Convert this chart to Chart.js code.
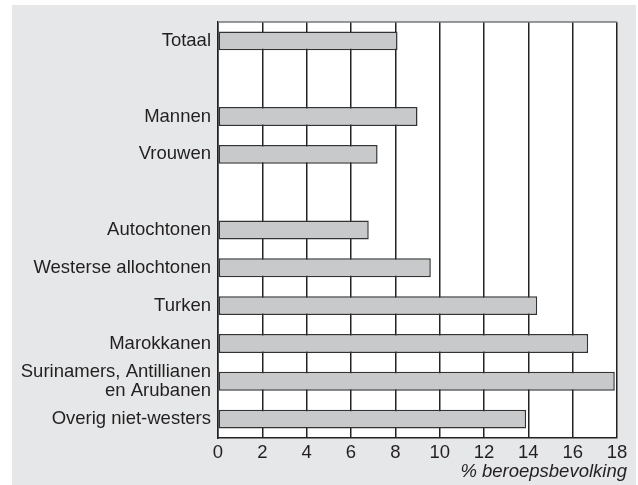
<!DOCTYPE html>
<html>
<head>
<meta charset="utf-8">
<script src="https://cdn.jsdelivr.net/npm/chart.js@4"></script>
<style>
  body { margin: 0; background: #ffffff; }
  #wrap { position: absolute; left: 12px; top: 5px; width: 624px; height: 480px; background: #e6e7e8; }
</style>
</head>
<body>
<div id="wrap"><canvas id="chart" width="624" height="480"></canvas></div>
<script>
// Data
var categories = ['Totaal', '', 'Mannen', 'Vrouwen', '', 'Autochtonen', 'Westerse allochtonen', 'Turken', 'Marokkanen', ['Surinamers, Antillianen', 'en Arubanen'], 'Overig niet-westers'];
var values = [8.1, null, 9.0, 7.2, null, 6.8, 9.6, 14.4, 16.7, 17.9, 13.9];
var xTicks = [0, 2, 4, 6, 8, 10, 12, 14, 16, 18];
var axisTitle = '% beroepsbevolking';

// white plot area, top border and the axis title (sits a bit past the plot's right edge)
var plotBg = {
  id: 'plotBg',
  beforeDraw: function (chart) {
    var a = chart.chartArea;
    var ctx = chart.ctx;
    ctx.save();
    ctx.fillStyle = '#ffffff';
    ctx.fillRect(a.left, a.top, a.right - a.left, a.bottom - a.top);
    ctx.restore();
  },
  afterDraw: function (chart) {
    var a = chart.chartArea;
    var ctx = chart.ctx;
    ctx.save();
    ctx.strokeStyle = '#777777';
    ctx.lineWidth = 1.5;
    ctx.beginPath();
    ctx.moveTo(a.left, a.top);
    ctx.lineTo(a.right, a.top);
    ctx.stroke();
    ctx.fillStyle = '#231f20';
    ctx.font = 'italic 18.5px "Liberation Sans"';
    ctx.textAlign = 'right';
    ctx.textBaseline = 'alphabetic';
    ctx.fillText(axisTitle, a.right + 10, a.bottom + 39);
    ctx.restore();
  }
};

var ctx = document.getElementById('chart').getContext('2d');
var chart = new Chart(ctx, {
  type: 'bar',
  data: {
    labels: categories,
    datasets: [{
      data: values,
      backgroundColor: '#c8c9cb',
      borderColor: '#333333',
      borderWidth: 1.5,
      borderSkipped: false,
      barPercentage: 0.5,
      categoryPercentage: 1.0
    }]
  },
  options: {
    indexAxis: 'y',
    responsive: false,
    animation: false,
    layout: { padding: { top: 17, right: 19, left: 0, bottom: 0 } },
    plugins: { legend: { display: false }, tooltip: { enabled: false } },
    scales: {
      x: {
        min: 0,
        max: 18,
        afterBuildTicks: function (scale) {
          scale.ticks = xTicks.map(function (v) { return { value: v }; });
        },
        afterFit: function (scale) { scale.height = 47; },
        grid: { color: '#222222', lineWidth: 1.5, drawTicks: false },
        border: { color: '#222222', width: 1.5 },
        ticks: { color: '#231f20', padding: 4, maxRotation: 0, font: { family: 'Liberation Sans', size: 18.5 } }
      },
      y: {
        afterFit: function (scale) { scale.width = 206; },
        grid: { display: false, drawTicks: false },
        border: { color: '#222222', width: 1.5 },
        ticks: { color: '#231f20', padding: 7, autoSkip: false, font: { family: 'Liberation Sans', size: 18.5, lineHeight: 1.05 } }
      }
    }
  },
  plugins: [plotBg]
});
</script>
</body>
</html>
